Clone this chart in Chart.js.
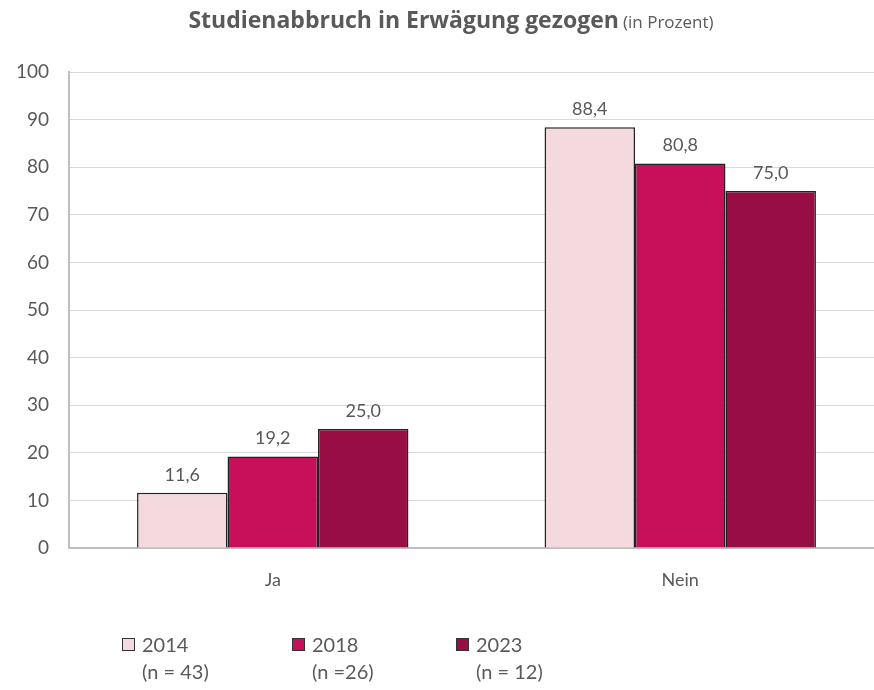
<!DOCTYPE html>
<html>
<head>
<meta charset="utf-8">
<script src="https://cdn.jsdelivr.net/npm/chart.js@4/dist/chart.umd.min.js"></script>
<style>
  html, body { margin: 0; padding: 0; background: #fff; overflow: hidden; }
  #wrap { position: relative; width: 874px; height: 690px; overflow: hidden; }
  #chart { position: absolute; left: 0; top: 0; }
  #title { position: absolute; left: 0; width: 902px; top: 4px; text-align: center; line-height: 31px;
    font-family: "Open Sans", sans-serif; color: #595959; white-space: nowrap; }
  #title b { font-size: 23px; font-weight: 700; }
  #title span { font-size: 17px; }
  .leg { position: absolute; top: 631px; font-family: Lato, sans-serif; font-size: 20px; color: #595959; line-height: 27px; }
  .leg i { position: absolute; left: 0; top: 7px; width: 13px; height: 13px; border: 1px solid #333; box-sizing: border-box; }
  .leg div { padding-left: 20px; white-space: nowrap; }
</style>
</head>
<body>
<div id="wrap">
  <canvas id="chart" width="886" height="690"></canvas>
  <div id="title"><b>Studienabbruch in Erwägung gezogen</b> <span>(in Prozent)</span></div>
  <div id="legend"></div>
</div>
<script>
const categories = ["Ja", "Nein"];
const years = ["2014", "2018", "2023"];
const sampleSizes = ["(n = 43)", "(n =26)", "(n = 12)"];
const values2014 = [11.6, 88.4];
const values2018 = [19.2, 80.8];
const values2023 = [25.0, 75.0];
const yTicks = [0, 10, 20, 30, 40, 50, 60, 70, 80, 90, 100];

const colors = ["#f4d9de", "#c8105a", "#990d45"];
const legendLeft = [122, 292, 456];

const legend = document.getElementById("legend");
years.forEach((y, i) => {
  const el = document.createElement("div");
  el.className = "leg";
  el.style.left = legendLeft[i] + "px";
  el.innerHTML = '<i style="background:' + colors[i] + '"></i><div>' + y + '</div><div>' + sampleSizes[i] + '</div>';
  legend.appendChild(el);
});

// value labels above each bar, German decimal comma
const valueLabels = {
  id: "valueLabels",
  afterDatasetsDraw(chart) {
    const ctx = chart.ctx;
    ctx.save();
    ctx.font = "18px Lato, sans-serif";
    ctx.fillStyle = "#595959";
    ctx.textAlign = "center";
    ctx.textBaseline = "bottom";
    chart.data.datasets.forEach((ds, di) => {
      chart.getDatasetMeta(di).data.forEach((bar, i) => {
        ctx.fillText(ds.data[i].toFixed(1).replace(".", ","), bar.x, bar.y - 9);
      });
    });
    ctx.restore();
  }
};

const seriesData = [values2014, values2018, values2023];

new Chart(document.getElementById("chart"), {
  type: "bar",
  data: {
    labels: categories,
    datasets: years.map((y, i) => ({
      label: y,
      data: seriesData[i],
      backgroundColor: colors[i],
      borderColor: "#222",
      borderWidth: 1.5,
      barPercentage: 1,
      categoryPercentage: 0.666
    }))
  },
  options: {
    responsive: false,
    animation: false,
    layout: { padding: { top: 72, right: 2, left: 0, bottom: 0 } },
    plugins: { legend: { display: false }, tooltip: { enabled: false } },
    scales: {
      x: {
        grid: { display: false },
        border: { color: "#bfbfbf", width: 2 },
        ticks: { color: "#595959", font: { family: "Lato", size: 18 }, padding: 13 },
        afterFit(scale) { scale.height = 142; }
      },
      y: {
        min: 0,
        max: 100,
        afterBuildTicks(scale) { scale.ticks = yTicks.map(v => ({ value: v })); },
        grid: { color: "#d9d9d9", lineWidth: 1, drawTicks: false },
        border: { color: "#bfbfbf", width: 2 },
        ticks: { color: "#595959", font: { family: "Lato", size: 19 }, padding: 20 },
        afterFit(scale) { scale.width = 69; }
      }
    }
  },
  plugins: [valueLabels]
});
</script>
</body>
</html>
